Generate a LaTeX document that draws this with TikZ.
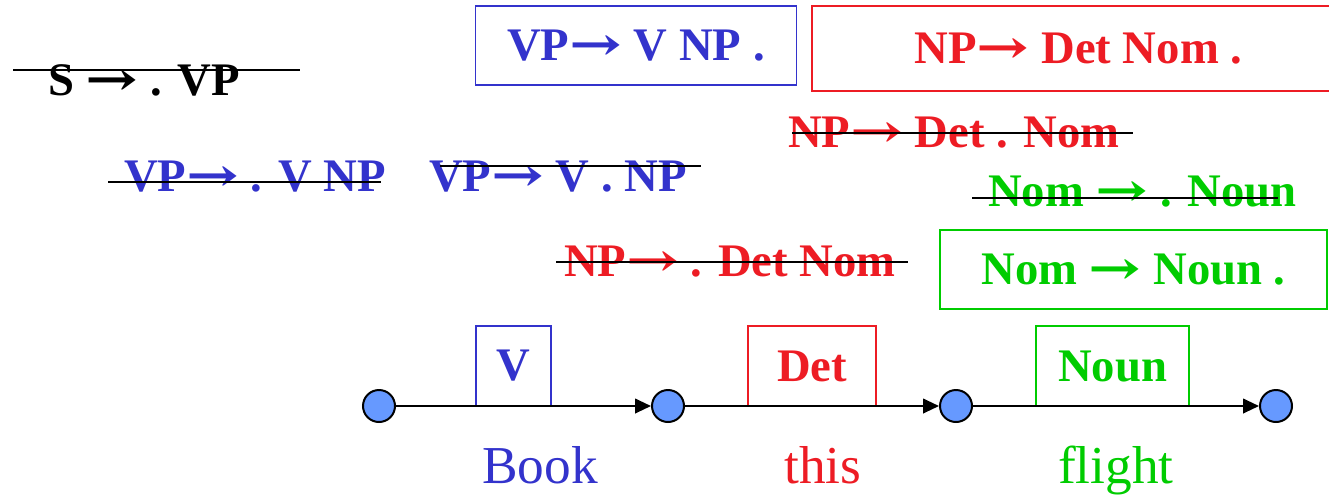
\documentclass[tikz,border=0pt]{standalone}
\usepackage{fontspec}
\usepackage{graphicx}
\setmainfont{Liberation Serif}
\newfontfamily\arrowfont{DejaVu Serif}
\usetikzlibrary{arrows.meta}
\definecolor{vpblue}{HTML}{3333CC}
\definecolor{npred}{HTML}{ED1C24}
\definecolor{nomgreen}{HTML}{00CC00}
\definecolor{dotblue}{HTML}{6699FF}
\newcommand\goesto{\scalebox{1.35}[1]{\arrowfont\bfseries →}}

\begin{document}
\begin{tikzpicture}[x=0.75pt,y=-0.75pt,
    every node/.style={font=\fontsize{35}{42}\selectfont\bfseries,inner sep=0pt},
    item/.style={anchor=base west,text=#1},
    itembox/.style={draw=#1,text=#1,line width=1.2pt},
    strike/.style={line width=1.6pt},
    wordbox/.style={draw=#1,text=#1,line width=1.2pt,minimum height=60pt},
    word/.style={font=\fontsize{40}{48}\selectfont,text=#1,anchor=base},
    state/.style={circle,draw,fill=dotblue,line width=1.5pt,minimum size=24pt},
    edge/.style={line width=1.5pt,-{Triangle[length=12pt,width=11pt]}}]
  \useasboundingbox (0,0) rectangle (1329,494);

  % finished items
  \node[itembox=vpblue,minimum width=240.75pt,minimum height=59.25pt] (vpdone) at (636,45.5) {VP\goesto{} V NP .};
  \node[itembox=npred,minimum width=399.75pt,minimum height=63.75pt] (npdone) at (1078.5,48.5) {NP\goesto{} Det Nom .};
  \node[itembox=nomgreen,minimum width=290.25pt,minimum height=59.25pt] (nomdone) at (1133.5,269.5) {Nom \goesto{} Noun .};

  % items crossed out
  \node[item=black] (s) at (48,95) {S \goesto{} . VP};
  \node[item=vpblue] (vpa) at (124,191) {VP\goesto{} . V NP};
  \node[item=vpblue] (vpb) at (429,191) {VP\goesto{} V . NP};
  \node[item=npred] (npb) at (788,147) {NP\goesto{} Det . Nom};
  \node[item=nomgreen] (noma) at (988,206) {Nom \goesto{} . Noun};
  \node[item=npred] (npa) at (564,276) {NP\goesto{} . Det Nom};
  \coordinate (s1) at (13,70);    \coordinate (s2) at (300,70);
  \coordinate (vpa1) at (108,182); \coordinate (vpa2) at (381,182);
  \coordinate (vpb1) at (440,166); \coordinate (vpb2) at (701,166);
  \coordinate (npb1) at (792,133); \coordinate (npb2) at (1133,133);
  \coordinate (noma1) at (972,198); \coordinate (noma2) at (1278,198);
  \coordinate (npa1) at (556,262); \coordinate (npa2) at (908,262);
  \foreach \k in {s,vpa,vpb,npb,noma,npa}{\draw[strike] (\k1)--(\k2);}

  % chart
  \node[wordbox=vpblue,minimum width=56.25pt] (v) at (513.5,366) {V};
  \node[wordbox=npred,minimum width=96pt] (det) at (812,366) {Det};
  \node[wordbox=nomgreen,minimum width=114.75pt] (noun) at (1112.5,366) {Noun};
  \node[state] (q0) at (379,406) {};
  \node[state] (q1) at (668,406) {};
  \node[state] (q2) at (956,406) {};
  \node[state] (q3) at (1276,406) {};
  \draw[edge] (q0)--(q1);
  \draw[edge] (q1)--(q2);
  \draw[edge] (q2)--(q3);
  \node[word=vpblue] (book) at (540,483) {Book};
  \node[word=npred] (this) at (823,483) {this};
  \node[word=nomgreen] (flight) at (1116,483) {flight};
\end{tikzpicture}
\end{document}
